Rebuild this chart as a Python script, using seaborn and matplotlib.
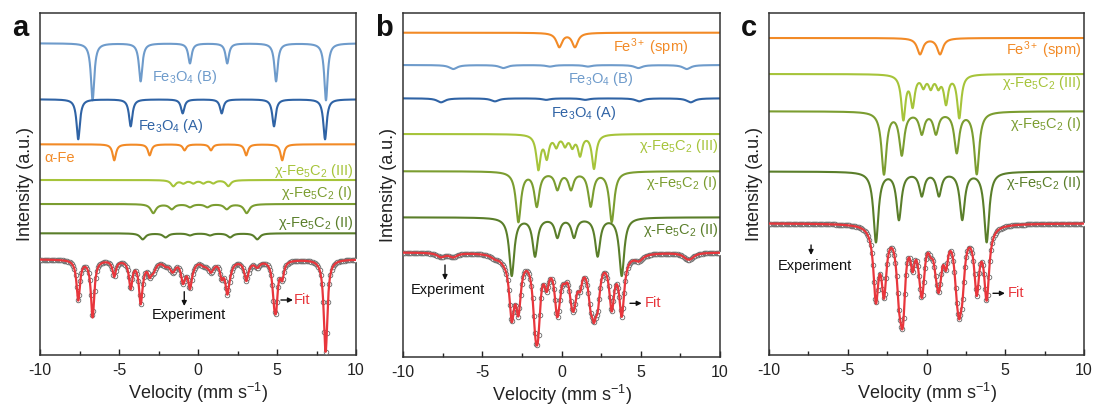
import numpy as np
import pandas as pd
import seaborn as sns
import matplotlib.pyplot as plt
from matplotlib.ticker import MultipleLocator

# ---------------- data ----------------
# Each component: Lorentzian line positions (mm/s) and depths (a.u.)
# Panel a
a_fe3o4_b_pos = [-6.67, -3.63, -0.51, 1.85, 4.94, 8.10]
a_fe3o4_b_dep = [57, 38, 20, 20, 38, 57]
a_fe3o4_a_pos = [-7.58, -4.26, -0.97, 1.50, 4.81, 8.04]
a_fe3o4_a_dep = [40, 27, 14, 14, 27, 40]
a_alpha_fe_pos = [-5.30, -3.06, -0.85, 0.82, 3.05, 5.33]
a_alpha_fe_dep = [16, 11, 6, 6, 11, 16]
a_chi3_pos = [-1.56, -0.93, -0.30, 0.34, 0.97, 1.92]
a_chi3_dep = [6, 3, 3, 3, 3, 6]
a_chi1_pos = [-2.83, -1.66, -0.51, 0.59, 1.82, 3.08]
a_chi1_dep = [9, 5, 3, 3, 5, 9]
a_chi2_pos = [-3.50, -2.05, -0.51, 0.76, 2.03, 3.75]
a_chi2_dep = [6, 4, 2, 2, 4, 6]
a_widths = [0.13, 0.13, 0.13, 0.18, 0.2, 0.2]

# Panel b
b_fe3_pos = [-0.14, 0.85]
b_fe3_dep = [14, 14]
b_fe3o4_b_pos = [-6.83, -3.67, -0.73, 1.67, 4.85, 7.90]
b_fe3o4_b_dep = [4, 3, 1.5, 1.5, 3, 4]
b_fe3o4_a_pos = [-7.60, -4.20, -0.97, 1.50, 4.91, 8.15]
b_fe3o4_a_dep = [4, 3, 1.5, 1.5, 3, 4]
b_chi3_pos = [-1.46, -0.93, -0.33, 0.22, 0.68, 1.17, 2.05]
b_chi3_dep = [34, 22, 11, 10, 11, 20, 34]
b_chi1_pos = [-2.72, -1.56, -0.26, 0.60, 1.84, 3.17]
b_chi1_dep = [50, 34, 17, 17, 34, 50]
b_chi2_pos = [-3.14, -1.67, -0.26, 0.79, 2.28, 3.80]
b_chi2_dep = [58, 38, 19, 19, 38, 58]
b_widths = [0.22, 0.3, 0.3, 0.16, 0.19, 0.19]

# Panel c
c_fe3_pos = [-0.41, 0.86]
c_fe3_dep = [16, 16]
c_chi3_pos = [-1.47, -0.88, -0.20, 0.27, 0.75, 1.24, 2.08]
c_chi3_dep = [44, 30, 11, 12, 11, 28, 43]
c_chi1_pos = [-2.70, -1.57, -0.30, 0.60, 1.92, 3.19]
c_chi1_dep = [62, 42, 21, 21, 40, 62]
c_chi2_pos = [-3.21, -1.75, -0.30, 0.79, 2.27, 3.82]
c_chi2_dep = [70, 47, 23, 23, 47, 70]
c_widths = [0.22, 0.16, 0.19, 0.19]

x_ticks = [-10, -5, 0, 5, 10]
x_tick_labels = ["-10", "-5", "0", "5", "10"]

# ---------------- style ----------------
sns.set_style("white")
plt.rcParams['font.family'] = ['Liberation Sans', 'DejaVu Sans']
plt.rcParams['mathtext.fontset'] = 'custom'
plt.rcParams['mathtext.rm'] = 'Liberation Sans'
plt.rcParams['mathtext.it'] = 'Liberation Sans:italic'
plt.rcParams['mathtext.bf'] = 'Liberation Sans:bold'
plt.rcParams['axes.unicode_minus'] = False

COL = {
    'fe3o4_b': '#6e9bcb',
    'fe3o4_a': '#2f63a5',
    'orange': '#f28a26',
    'chi3': '#a6c43a',
    'chi1': '#7b9d30',
    'chi2': '#5a7e2a',
    'fit': '#e8363c',
}

LBL = {
    'fe3o4_b': 'Fe$_3$O$_4$ (B)',
    'fe3o4_a': 'Fe$_3$O$_4$ (A)',
    'alpha': 'α-Fe',
    'fe3': 'Fe$^{3+}$ (spm)',
    'chi3': 'χ-Fe$_5$C$_2$ (III)',
    'chi1': 'χ-Fe$_5$C$_2$ (I)',
    'chi2': 'χ-Fe$_5$C$_2$ (II)',
}

v = np.linspace(-10, 10, 1601)
v_exp = np.arange(-10, 10.0001, 0.075)


def lor(x, pos, dep, w):
    x = np.asarray(x)[:, None]
    p = np.asarray(pos)[None, :]
    d = np.asarray(dep)[None, :]
    return (d * w ** 2 / ((x - p) ** 2 + w ** 2)).sum(axis=1)


panels = [
    dict(letter='a', box=(40, 356, 355), top=13,
         comps=[('fe3o4_b', a_fe3o4_b_pos, a_fe3o4_b_dep, 'fe3o4_b'),
                ('fe3o4_a', a_fe3o4_a_pos, a_fe3o4_a_dep, 'fe3o4_a'),
                ('alpha', a_alpha_fe_pos, a_alpha_fe_dep, 'orange'),
                ('chi3', a_chi3_pos, a_chi3_dep, 'chi3'),
                ('chi1', a_chi1_pos, a_chi1_dep, 'chi1'),
                ('chi2', a_chi2_pos, a_chi2_dep, 'chi2')],
         widths=a_widths,
         bases=[311.7, 255.7, 210.7, 175, 151, 121.7], fit_base=95.7,
         labels=[('fe3o4_b', -2.91, 278, 'left'), ('fe3o4_a', -3.8, 229, 'left'),
                 ('alpha', -9.75, 197, 'left'), ('chi3', 9.81, 184, 'right'),
                 ('chi1', 9.81, 162, 'right'), ('chi2', 9.81, 132.3, 'right')],
         exp=(-2.91, 40, -0.87, 63.3, 49), fit=(6.09, 55, 5.25, 6.01)),
    dict(letter='b', box=(403, 720, 357), top=13,
         comps=[('fe3', b_fe3_pos, b_fe3_dep, 'orange'),
                ('fe3o4_b', b_fe3o4_b_pos, b_fe3o4_b_dep, 'fe3o4_b'),
                ('fe3o4_a', b_fe3o4_a_pos, b_fe3o4_a_dep, 'fe3o4_a'),
                ('chi3', b_chi3_pos, b_chi3_dep, 'chi3'),
                ('chi1', b_chi1_pos, b_chi1_dep, 'chi1'),
                ('chi2', b_chi2_pos, b_chi2_dep, 'chi2')],
         widths=b_widths,
         bases=[324.3, 292, 258.7, 223, 185.8, 139.7], fit_base=104.7,
         labels=[('fe3', 3.23, 310.3, 'left'), ('fe3o4_b', 0.41, 278, 'left'),
                 ('fe3o4_a', -0.66, 244.3, 'left'), ('chi3', 9.87, 211.3, 'right'),
                 ('chi1', 9.87, 174.3, 'right'), ('chi2', 9.87, 127, 'right')],
         exp=(-9.51, 67, -7.35, 92, 77), fit=(5.27, 53.7, 4.32, 5.06)),
    dict(letter='c', box=(769, 1084, 355), top=13,
         comps=[('fe3', c_fe3_pos, c_fe3_dep, 'orange'),
                ('chi3', c_chi3_pos, c_chi3_dep, 'chi3'),
                ('chi1', c_chi1_pos, c_chi1_dep, 'chi1'),
                ('chi2', c_chi2_pos, c_chi2_dep, 'chi2')],
         widths=c_widths,
         bases=[317, 281, 243.7, 183.5], fit_base=131.7,
         labels=[('fe3', 9.85, 305, 'right'), ('chi3', 9.85, 271.7, 'right'),
                 ('chi1', 9.85, 231, 'right'), ('chi2', 9.85, 172.3, 'right')],
         exp=(-9.43, 89, -7.33, 110, 100), fit=(5.17, 61.7, 4.22, 4.98)),
]

W, H = 1098, 408
fig = plt.figure(figsize=(W / 100, H / 100), dpi=100)

for P in panels:
    l, r, b = P['box']
    t = P['top']
    ax = fig.add_axes([l / W, (H - b) / H, (r - l) / W, (b - t) / H])
    ax.set_xlim(-10, 10)
    ax.set_ylim(0, b - t)

    rows = []
    total_line = np.zeros_like(v)
    total_exp = np.zeros_like(v_exp)
    palette = {}
    for (key, pos, dep, ckey), w, base in zip(P['comps'], P['widths'], P['bases']):
        prof = lor(v, pos, dep, w)
        total_line += prof
        total_exp += lor(v_exp, pos, dep, w)
        rows.append(pd.DataFrame({'v': v, 'y': base - prof, 'comp': key}))
        palette[key] = COL[ckey]
    df = pd.concat(rows, ignore_index=True)
    sns.lineplot(data=df, x='v', y='y', hue='comp', palette=palette,
                 estimator=None, sort=False, legend=False, linewidth=1.5, ax=ax)

    exp_df = pd.DataFrame({'v': v_exp, 'y': P['fit_base'] - total_exp})
    sns.scatterplot(data=exp_df, x='v', y='y', marker='o', s=11, color='white',
                    edgecolor='#666666', linewidth=0.6, ax=ax, zorder=3)
    fit_df = pd.DataFrame({'v': v, 'y': P['fit_base'] - total_line})
    sns.lineplot(data=fit_df, x='v', y='y', color=COL['fit'], linewidth=1.6,
                 estimator=None, sort=False, ax=ax, zorder=4)

    ckeys = {k: c for k, _, _, c in P['comps']}
    for key, x, y, ha in P['labels']:
        ax.text(x, y, LBL[key], color=COL[ckeys[key]], fontsize=10.5,
                ha=ha, va='center')

    ex, ey, ax_x, ay0, ay1 = P['exp']
    ax.text(ex, ey, 'Experiment', fontsize=10.5, color='#111111', ha='left', va='center')
    ax.annotate('', xy=(ax_x, ay1), xytext=(ax_x, ay0),
                arrowprops=dict(arrowstyle='-|>', color='#111111', lw=1.0,
                                mutation_scale=7, shrinkA=0, shrinkB=0))
    fx, fy, fa0, fa1 = P['fit']
    ax.text(fx, fy, 'Fit', fontsize=10.5, color=COL['fit'], ha='left', va='center')
    ax.annotate('', xy=(fa1, fy), xytext=(fa0, fy),
                arrowprops=dict(arrowstyle='-|>', color='#111111', lw=1.0,
                                mutation_scale=7, shrinkA=0, shrinkB=0))

    ax.set_xticks(x_ticks)
    ax.set_xticklabels(x_tick_labels)
    ax.xaxis.set_minor_locator(MultipleLocator(2.5))
    ax.set_yticks([])
    ax.tick_params(axis='x', which='major', direction='in', length=4, width=1,
                   labelsize=11.5, pad=6, colors='#222222', bottom=True, top=False)
    ax.tick_params(axis='x', which='minor', direction='in', length=3, width=1,
                   bottom=True, top=False, colors='#222222')
    for s in ax.spines.values():
        s.set_color('#333333')
        s.set_linewidth(1.1)
    ax.set_xlabel('Velocity (mm s$^{-1}$)', fontsize=13, labelpad=2, color='#222222')
    ax.set_ylabel('Intensity (a.u.)', fontsize=13, color='#222222')
    ax.yaxis.set_label_coords(-0.02, 0.5)

    fig.text((l - 28) / W, (H - 36) / H, P['letter'], fontsize=21,
             fontweight='bold', ha='left', va='baseline', color='#111111')

fig.savefig('out.png', dpi=100)
